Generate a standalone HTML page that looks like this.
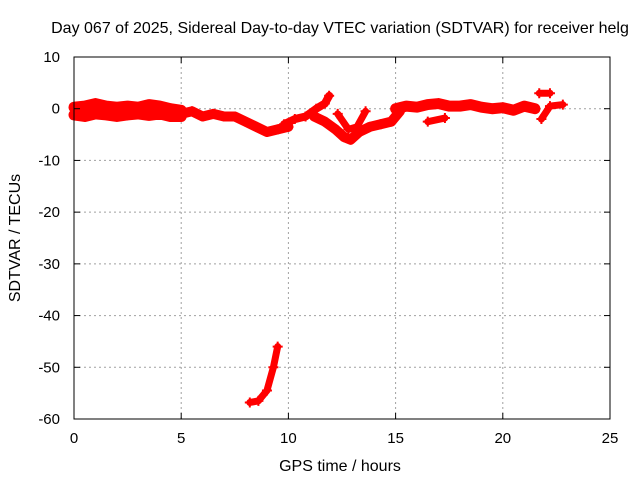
<!DOCTYPE html>
<html><head><meta charset="utf-8"><style>
body{margin:0;background:#fff}
svg{display:block;font-family:"Liberation Sans",sans-serif;font-size:14px}
</style></head><body>
<svg id="c" width="640" height="480">
<text x="340" y="33" text-anchor="middle" font-size="16">Day 067 of 2025, Sidereal Day-to-day VTEC variation (SDTVAR) for receiver helg</text>
<text x="340" y="471" text-anchor="middle" font-size="16">GPS time / hours</text>
<text transform="translate(20,238) rotate(-90)" text-anchor="middle" font-size="16">SDTVAR / TECUs</text>
<g id="grid"></g><g id="marks"></g><g id="axes"></g>
</svg>
<script>
const xTicks=[0,5,10,15,20,25];
const yTicks=[10,0,-10,-20,-30,-40,-50,-60];
const trackA_t=[0,0.5,1,1.5,2,2.5,3,3.5,4,4.5,5];
const trackA_v=[0.3,0.5,1,0.5,0.3,0.5,0.3,0.8,0.5,0,-0.3];
const trackB_t=[0,0.5,1,1.5,2,2.5,3,3.5,4,4.5,5];
const trackB_v=[-1.2,-1.5,-1,-1.2,-1.5,-1.2,-1,-1.3,-1,-1.5,-1.5];
const trackC_t=[5,5.5,6,6.5,7,7.5,8,8.5,9,9.5,10];
const trackC_v=[-1,-0.5,-1.5,-1,-1.5,-1.5,-2.5,-3.5,-4.5,-4,-3.5];
const trackD_t=[9.8,10.3,10.8,11.3,11.7,11.9];
const trackD_v=[-3,-2,-1.5,0,1,2.5];
const trackE_t=[11.2,11.7,12.2,12.6,12.9,13.3,13.8,14.3,14.8,15.2];
const trackE_v=[-1.5,-2.5,-4,-5.5,-6,-4.5,-3.5,-3,-2.5,-0.5];
const trackF_t=[12.3,12.8,13.2,13.6];
const trackF_v=[-1,-4,-3.5,-0.5];
const trackG_t=[15,15.5,16,16.5,17,17.5,18,18.5,19,19.5,20,20.5,21,21.5];
const trackG_v=[0,0.5,0.3,0.8,1,0.5,0.5,0.8,0.3,0,0.2,-0.3,0.5,0];
const trackH_t=[16.5,17.3];
const trackH_v=[-2.5,-1.8];
const trackI_t=[21.8,22.2,22.8];
const trackI_v=[-2,0.5,0.8];
const trackJ_t=[21.7,22.2];
const trackJ_v=[3,3];
const trackK_t=[8.2,8.6,9,9.3,9.5];
const trackK_v=[-56.8,-56.5,-54.5,-50,-46];
const tracks=[[trackA_t,trackA_v,11],[trackB_t,trackB_v,11],[trackC_t,trackC_v,10],[trackD_t,trackD_v,8],[trackE_t,trackE_v,10],[trackF_t,trackF_v,7],[trackG_t,trackG_v,11],[trackH_t,trackH_v,7],[trackI_t,trackI_v,7],[trackJ_t,trackJ_v,7],[trackK_t,trackK_v,7]];
const X0=74,X1=610,Y0=57,Y1=419;
const xs=t=>X0+(t-0)/25*(X1-X0);
const ys=v=>Y0+(10-v)/70*(Y1-Y0);
const NS="http://www.w3.org/2000/svg";
function mk(tag,parent,attrs){const e=document.createElementNS(NS,tag);for(const k in attrs)e.setAttribute(k,attrs[k]);parent.appendChild(e);return e;}
const grid=document.getElementById('grid'),axes=document.getElementById('axes'),marks=document.getElementById('marks');
xTicks.forEach(t=>{const x=xs(t);
 if(t>0&&t<25){const g=mk('line',grid,{x1:x,x2:x,y1:Y0,y2:Y1,stroke:'#a0a0a0','stroke-dasharray':'2,3'});
 
 }
 mk('line',axes,{x1:x,x2:x,y1:Y1,y2:Y1-6,stroke:'#000'});mk('line',axes,{x1:x,x2:x,y1:Y0,y2:Y0+6,stroke:'#000'});
 const l=mk('text',axes,{x:x,y:443,'text-anchor':'middle','font-size':15});l.textContent=t;
 
 });
yTicks.forEach(v=>{const y=ys(v);
 if(v>-60&&v<10){const g=mk('line',grid,{x1:X0,x2:X1,y1:y,y2:y,stroke:'#a0a0a0','stroke-dasharray':'2,3'});
 
 }
 mk('line',axes,{x1:X0,x2:X0+6,y1:y,y2:y,stroke:'#000'});mk('line',axes,{x1:X1,x2:X1-6,y1:y,y2:y,stroke:'#000'});
 const l=mk('text',axes,{x:60,y:y+5,'text-anchor':'end','font-size':15});l.textContent=v;
 
 });
const fr=mk('rect',axes,{x:X0,y:Y0,width:X1-X0,height:Y1-Y0,fill:'none',stroke:'#000'});


tracks.forEach(([T,V,w])=>{
 const pts=T.map((t,i)=>xs(t)+','+ys(V[i])).join(' ');
 const p=mk('polyline',marks,{points:pts,fill:'none',stroke:'#ff0000','stroke-width':w,'stroke-linejoin':'round','stroke-linecap':'round'});
 
 
 T.forEach((t,i)=>{const x=xs(t),y=ys(V[i]);
  const c=mk('path',marks,{d:`M${x-5},${y}H${x+5}M${x},${y-5}V${y+5}`,stroke:'#ff0000','stroke-width':2});
  
  });
});
</script>
</body></html>
